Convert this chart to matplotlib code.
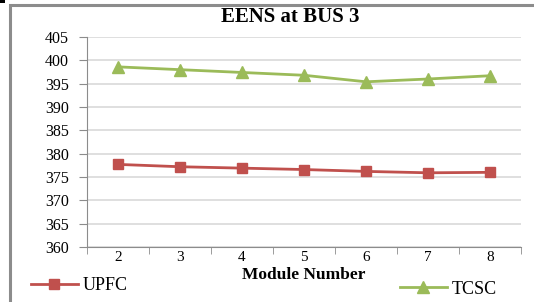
import matplotlib
matplotlib.use("Agg")
import matplotlib.pyplot as plt
from matplotlib.patches import Rectangle

modules = ["2", "3", "4", "5", "6", "7", "8"]
upfc = [377.7, 377.2, 376.9, 376.6, 376.2, 375.9, 376.0]
tcsc = [398.6, 398.0, 397.4, 396.8, 395.4, 396.0, 396.7]
y_ticks = [360, 365, 370, 375, 380, 385, 390, 395, 400, 405]

RED = "#C0504D"
GREEN = "#9BBB59"
plt.rcParams["font.family"] = ["Liberation Serif", "DejaVu Serif"]

fig = plt.figure(figsize=(5.34, 3.02), dpi=100)
# outer chart frame (only top/left edges visible in the crop)
fig.patches.append(Rectangle((9.5 / 534, -0.2), 1.2, 1.2 - 4.5 / 302,
                             transform=fig.transFigure, fill=False,
                             edgecolor="#8c8c8c", lw=2.2))
fig.patches.append(Rectangle((0, 1 - 3 / 302), 5 / 534, 3 / 302,
                             transform=fig.transFigure, color="black", lw=0))

ax = fig.add_axes([87 / 534, 1 - 247 / 302, (521 - 87) / 534, 210 / 302])
x = list(range(len(modules)))
ax.plot(x, upfc, color=RED, lw=2, marker="s", ms=7.5, label="UPFC")
ax.plot(x, tcsc, color=GREEN, lw=2, marker="^", ms=8.5, label="TCSC")

ax.set_xlim(-0.5, len(modules) - 0.5)
ax.set_ylim(360, 405)
ax.set_yticks(y_ticks)
ax.set_yticklabels([str(v) for v in y_ticks], fontsize=11.5)
ax.set_xticks(x)
ax.set_xticklabels(modules, fontsize=11)
ax.set_xticks([i + 0.5 for i in range(-1, len(modules))], minor=True)
ax.tick_params(axis="x", which="major", length=0, pad=3)
ax.tick_params(axis="x", which="minor", length=5, color="#8c8c8c", direction="out")
ax.tick_params(axis="y", length=6, color="#8c8c8c", pad=7)
ax.grid(axis="y", color="#d9d9d9", lw=1.2)
ax.set_axisbelow(True)
for s in ["top", "right"]:
    ax.spines[s].set_visible(False)
for s in ["left", "bottom"]:
    ax.spines[s].set_color("#8c8c8c")

fig.text(290 / 534, 1 - 17 / 302, "EENS at BUS 3", ha="center", va="center",
         fontsize=15, fontweight="bold")
fig.text(304 / 534, 1 - 275 / 302, "Module Number", ha="center", va="center",
         fontsize=12.5, fontweight="bold")

h, l = ax.get_legend_handles_labels()
fig.legend([h[0]], [l[0]], loc="center left", bbox_to_anchor=(31 / 534, 1 - 286 / 302),
           frameon=False, fontsize=13, handlelength=2.6, handletextpad=0.25,
           borderaxespad=0, borderpad=0)
fig.legend([h[1]], [l[1]], loc="center left", bbox_to_anchor=(400 / 534, 1 - 289 / 302),
           frameon=False, fontsize=13, handlelength=2.6, handletextpad=0.25,
           borderaxespad=0, borderpad=0)

fig.savefig("out.png", dpi=100)
